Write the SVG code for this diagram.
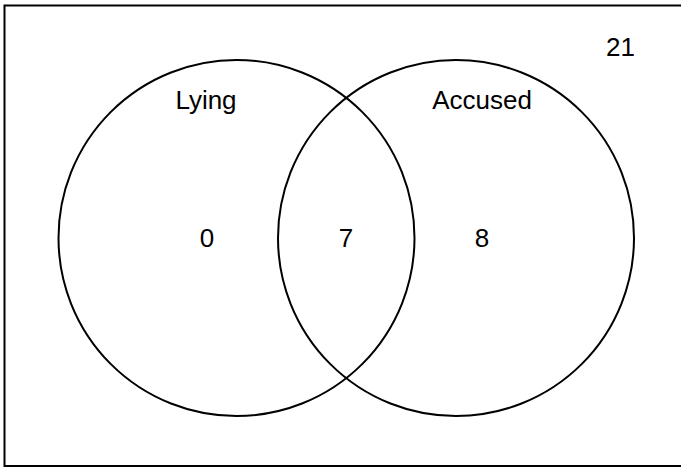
<svg xmlns="http://www.w3.org/2000/svg" width="681" height="468" viewBox="0 0 681 468">
<style>
.set{fill:none;stroke:#000;stroke-width:2}
.t{font-family:"Liberation Sans",Arial,Helvetica,sans-serif;font-size:26px;fill:#000;text-anchor:middle}
</style>
<rect x="0" y="0" width="681" height="468" fill="#fff"/>
<g id="universe">
<rect x="4.5" y="5.5" width="682" height="460.5" fill="none" stroke="#000" stroke-width="2"/>
<text class="t" x="620.5" y="56">21</text>
</g>
<g id="lying">
<circle class="set" cx="236.5" cy="238" r="178"/>
<text class="t" x="206" y="109">Lying</text>
<text class="t" x="207" y="247">0</text>
</g>
<g id="accused">
<circle class="set" cx="456" cy="238" r="178"/>
<text class="t" x="482" y="109">Accused</text>
<text class="t" x="482" y="247">8</text>
</g>
<g id="intersection">
<text class="t" x="346" y="247">7</text>
</g>
<g id="connectors"/>
</svg>
